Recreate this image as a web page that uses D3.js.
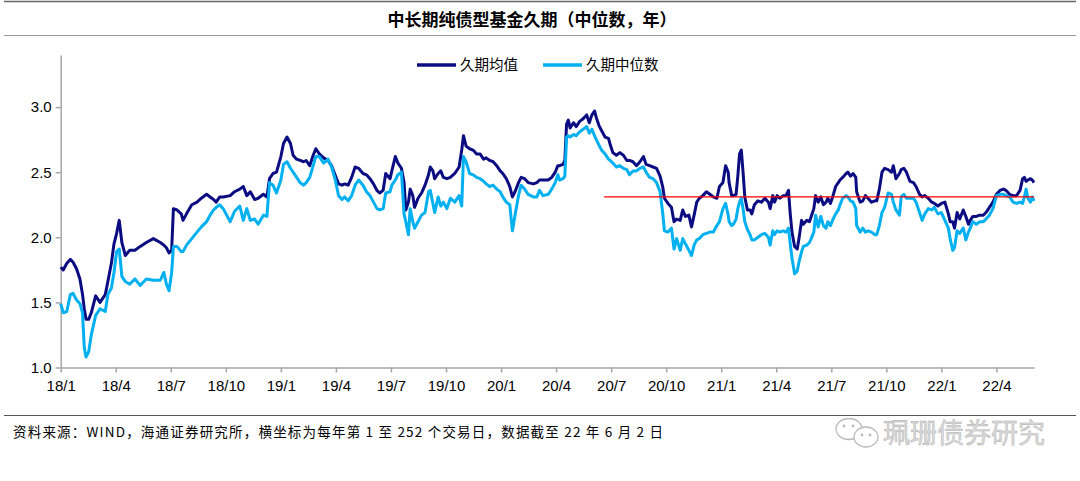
<!DOCTYPE html>
<html>
<head>
<meta charset="utf-8">
<script src="https://cdn.jsdelivr.net/npm/d3@7"></script>
<style>
  body { margin: 0; background: #fff; }
  svg { display: block; }
  .tick-label { font-family: "Liberation Sans", Arial, sans-serif; font-size: 15px; fill: #000; }
  .cn { font-family: "Noto Sans CJK SC", sans-serif; }
</style>
</head>
<body>
<svg width="1080" height="481"></svg>
<script>
// trading-day index (252 per year, day 0 = first trading day of 2018)
const days = [
  0,3,7,11,14,18,22,25,27,29,32,35,40,45,51,54,58,61,64,67,70,74,79,85,91,98,106,114,118,121,124,127,129,133,138,140,144,150,156,161,167,171,175,178,182,
  186,194,199,205,209,213,217,222,226,232,236,239,243,247,252,255,259,263,266,270,274,278,281,285,289,292,296,301,306,310,314,318,322,325,329,333,337,341,346,350,354,358,362,365,369,372,377,
  379,383,386,390,393,395,398,400,403,405,409,413,417,421,423,426,428,432,435,438,442,446,451,456,459,461,464,468,472,476,480,484,487,491,495,499,503,506,510,514,517,520,524,527,531,535,541,545,548,552,558,562,566,569,
  571,575,577,579,581,583,587,590,594,598,602,605,608,611,613,616,619,623,627,629,632,636,640,644,648,651,655,659,663,667,670,674,678,682,686,689,691,695,699,702,705,709,712,715,719,722,725,728,731,735,739,743,747,751,754,758,761,764,
  765,768,770,773,775,777,779,781,783,786,789,791,794,798,802,806,810,812,815,817,820,823,827,830,833,835,837,840,843,845,848,850,854,857,859,862,864,867,870,873,876,878,881,884,887,890,892,895,899,901,904,907,910,911,915,918,921,924,928,932,934,937,940,943,947,951,953,956,960,
  962,965,968,972,976,979,983,986,989,993,997,1000,1004,1008,1012,1016,1018,1021,1023,1026,1029,1033,1036,1039,1041,1044,1048,1052,1056,1059,1063,1067,1071,1075,1079,1082,1086,1090,1094,1098,1101,1103,1105,1107,1110,1112,1114
];

// 久期均值
const meanDur = [
  1.77,1.75,1.80,1.83,1.81,1.76,1.68,1.56,1.45,1.37,1.37,1.42,1.55,1.50,1.56,1.66,1.80,1.95,2.03,2.13,1.96,1.86,1.90,1.90,1.93,1.96,1.99,1.96,1.94,1.92,1.88,1.90,2.22,2.21,2.18,2.13,2.18,2.25,2.27,2.30,2.33,2.31,2.29,2.27,2.31,
  2.31,2.32,2.35,2.37,2.39,2.32,2.35,2.29,2.30,2.33,2.31,2.45,2.49,2.50,2.62,2.72,2.77,2.72,2.63,2.60,2.59,2.58,2.59,2.55,2.63,2.68,2.64,2.61,2.59,2.55,2.48,2.41,2.40,2.41,2.40,2.46,2.54,2.53,2.49,2.48,2.45,2.41,2.36,2.34,2.36,2.49,2.45,
  2.51,2.62,2.57,2.53,2.42,2.21,2.27,2.37,2.32,2.23,2.30,2.34,2.40,2.48,2.54,2.51,2.45,2.49,2.51,2.46,2.45,2.46,2.49,2.54,2.67,2.78,2.70,2.68,2.67,2.64,2.64,2.60,2.61,2.59,2.58,2.55,2.51,2.49,2.45,2.39,2.31,2.35,2.42,2.46,2.45,2.42,2.41,2.42,2.44,2.44,2.44,2.46,2.50,2.55,
  2.55,2.56,2.59,2.87,2.90,2.84,2.88,2.85,2.89,2.91,2.94,2.88,2.94,2.97,2.92,2.86,2.82,2.77,2.76,2.71,2.65,2.63,2.65,2.63,2.59,2.59,2.58,2.55,2.58,2.62,2.56,2.55,2.54,2.53,2.47,2.39,2.30,2.26,2.23,2.12,2.14,2.13,2.21,2.16,2.17,2.08,2.17,2.27,2.30,2.32,2.35,2.33,2.31,2.30,2.39,2.42,2.55,2.50,
  2.42,2.32,2.32,2.33,2.47,2.64,2.67,2.50,2.31,2.21,2.21,2.18,2.25,2.28,2.27,2.30,2.27,2.22,2.32,2.27,2.32,2.30,2.32,2.32,2.36,2.18,2.04,1.93,1.91,1.99,2.13,2.10,2.13,2.12,2.16,2.22,2.32,2.27,2.31,2.25,2.27,2.30,2.26,2.32,2.39,2.42,2.44,2.46,2.49,2.50,2.47,2.49,2.46,2.35,2.27,2.28,2.32,2.30,2.27,2.28,2.28,2.37,2.50,2.53,2.52,2.50,2.55,2.45,2.49,
  2.52,2.53,2.50,2.43,2.42,2.39,2.33,2.31,2.32,2.30,2.27,2.26,2.24,2.26,2.27,2.18,2.12,2.12,2.07,2.19,2.14,2.21,2.16,2.10,2.13,2.16,2.16,2.17,2.17,2.19,2.23,2.27,2.33,2.36,2.37,2.36,2.33,2.32,2.32,2.36,2.45,2.46,2.43,2.44,2.45,2.44,2.42
];

// 久期中位数
const medianDur = [
  1.49,1.42,1.43,1.56,1.57,1.52,1.49,1.42,1.15,1.08,1.12,1.25,1.40,1.45,1.43,1.56,1.61,1.73,1.89,1.91,1.70,1.66,1.64,1.68,1.63,1.68,1.67,1.67,1.73,1.64,1.59,1.73,1.93,1.93,1.89,1.89,1.94,1.99,2.04,2.08,2.12,2.17,2.21,2.23,2.25,
  2.22,2.12,2.20,2.24,2.13,2.22,2.13,2.14,2.10,2.17,2.16,2.42,2.40,2.34,2.44,2.56,2.58,2.53,2.50,2.46,2.42,2.40,2.42,2.46,2.55,2.62,2.62,2.57,2.60,2.54,2.45,2.32,2.29,2.31,2.28,2.32,2.40,2.44,2.40,2.35,2.32,2.27,2.22,2.21,2.22,2.34,2.35,
  2.40,2.44,2.48,2.50,2.18,2.12,2.02,2.22,2.12,2.07,2.12,2.17,2.19,2.35,2.36,2.26,2.19,2.31,2.24,2.27,2.22,2.30,2.27,2.32,2.24,2.62,2.58,2.49,2.48,2.46,2.45,2.43,2.41,2.39,2.40,2.37,2.35,2.31,2.27,2.25,2.05,2.17,2.32,2.40,2.37,2.33,2.31,2.31,2.36,2.32,2.33,2.37,2.42,2.48,
  2.44,2.45,2.47,2.77,2.78,2.77,2.79,2.78,2.81,2.83,2.85,2.80,2.83,2.78,2.75,2.71,2.67,2.64,2.60,2.59,2.57,2.54,2.55,2.53,2.52,2.48,2.51,2.51,2.53,2.54,2.50,2.46,2.45,2.42,2.35,2.19,2.05,2.04,2.07,1.91,1.99,1.90,1.99,1.95,1.90,1.86,1.94,1.98,1.99,2.02,2.03,2.04,2.04,2.09,2.12,2.22,2.26,2.17,
  2.12,2.09,2.10,2.14,2.22,2.27,2.30,2.22,2.12,2.06,2.02,1.98,1.98,2.00,2.02,2.03,2.00,1.94,2.05,2.02,2.05,2.04,2.05,2.04,2.07,1.95,1.84,1.72,1.74,1.81,1.89,1.93,1.94,1.96,1.99,2.04,2.17,2.08,2.16,2.09,2.07,2.12,2.09,2.14,2.18,2.21,2.25,2.30,2.32,2.31,2.28,2.27,2.22,2.09,2.04,2.07,2.04,2.05,2.04,2.02,2.02,2.09,2.19,2.23,2.34,2.33,2.27,2.21,2.17,
  2.31,2.33,2.30,2.30,2.30,2.27,2.19,2.13,2.18,2.22,2.21,2.23,2.18,2.19,2.13,2.07,1.99,1.90,1.92,2.05,2.03,2.07,1.98,2.04,2.07,2.12,2.10,2.12,2.12,2.14,2.17,2.22,2.32,2.33,2.33,2.32,2.31,2.27,2.26,2.27,2.26,2.31,2.37,2.30,2.27,2.31,2.28
];

// red reference line
const refDays = [622, 1114];
const refValues = [2.31, 2.31];

const xTickLabels = ["18/1","18/4","18/7","18/10","19/1","19/4","19/7","19/10","20/1","20/4","20/7","20/10","21/1","21/4","21/7","21/10","22/1","22/4"];
const yTickValues = [1.0, 1.5, 2.0, 2.5, 3.0];
const seriesNames = ["久期均值", "久期中位数"];
const seriesColors = ["#0c0c82", "#00b0f0"];

const svg = d3.select("svg");

const margin = { top: 55, right: 46, bottom: 113.5, left: 60.7 },
    width = 1080 - margin.left - margin.right,
    height = 481 - margin.top - margin.bottom;

// frame lines and title
svg.append("line").attr("x1", 4).attr("x2", 1076).attr("y1", 1.5).attr("y2", 1.5)
    .attr("stroke", "#666").attr("stroke-width", 1.5);
svg.append("line").attr("x1", 4).attr("x2", 1076).attr("y1", 35.5).attr("y2", 35.5)
    .attr("stroke", "#999").attr("stroke-width", 1);
svg.append("text").attr("class", "cn")
    .attr("x", 532).attr("y", 26)
    .attr("text-anchor", "middle")
    .attr("font-size", 17).attr("font-weight", "bold")
    .text("中长期纯债型基金久期（中位数，年）");

const g = svg.append("g")
    .attr("transform", `translate(${margin.left},${margin.top})`);

const x = d3.scaleLinear().domain([0, 1114]).range([0, width]);
const y = d3.scaleLinear().domain([1.0, 3.4]).range([height, 0]);

// axes
const xAxis = g.append("g")
    .attr("transform", `translate(0,${height})`)
    .call(d3.axisBottom(x)
        .tickValues(xTickLabels.map((d, i) => i * 63))
        .tickFormat((d, i) => xTickLabels[i])
        .tickSize(5).tickSizeOuter(0).tickPadding(8));

const yAxis = g.append("g")
    .call(d3.axisLeft(y)
        .tickValues(yTickValues)
        .tickFormat(d3.format(".1f"))
        .tickSize(5).tickSizeOuter(0).tickPadding(4));

[xAxis, yAxis].forEach(ax => {
    ax.select(".domain").attr("stroke", "#a6a6a6").attr("stroke-width", 1.5);
    ax.selectAll(".tick line").attr("stroke", "#a6a6a6").attr("stroke-width", 1.5);
    ax.selectAll(".tick text").attr("class", "tick-label");
});

// lines
const meanData = days.map((d, i) => ({ day: d, v: meanDur[i] }));
const medianData = days.map((d, i) => ({ day: d, v: medianDur[i] }));
const line = d3.line().x(d => x(d.day)).y(d => y(d.v));

[meanData, medianData].forEach((data, k) => {
    g.append("path")
        .datum(data)
        .attr("fill", "none")
        .attr("stroke", seriesColors[k])
        .attr("stroke-width", 3)
        .attr("stroke-linejoin", "round")
        .attr("d", line);
});

g.append("path")
    .datum(refDays.map((d, i) => ({ day: d, v: refValues[i] })))
    .attr("fill", "none")
    .attr("stroke", "#ff0000")
    .attr("stroke-width", 1.2)
    .attr("d", line);

// legend
const legend = svg.append("g").attr("transform", "translate(417,65)");
const legendX = [0, 126];
seriesNames.forEach((name, i) => {
    legend.append("line")
        .attr("x1", legendX[i]).attr("x2", legendX[i] + 39)
        .attr("stroke", seriesColors[i]).attr("stroke-width", 3.5);
    legend.append("text").attr("class", "cn")
        .attr("x", legendX[i] + 43).attr("y", 5)
        .attr("font-size", 14.5)
        .text(name);
});

// source note
svg.append("line").attr("x1", 4).attr("x2", 1076).attr("y1", 415.5).attr("y2", 415.5)
    .attr("stroke", "#555").attr("stroke-width", 1.2);
svg.append("text").attr("class", "cn")
    .attr("x", 13).attr("y", 437)
    .attr("font-size", 13.5)
    .attr("letter-spacing", 1.2)
    .text("资料来源：WIND，海通证券研究所，横坐标为每年第 1 至 252 个交易日，数据截至 22 年 6 月 2 日");

// watermark
const wm = svg.append("g").attr("transform", "translate(835,418)");
wm.append("ellipse").attr("cx", 14).attr("cy", 11).attr("rx", 13).attr("ry", 10.5)
    .attr("fill", "#fff").attr("stroke", "#bbb").attr("stroke-width", 1.3);
wm.append("ellipse").attr("cx", 31).attr("cy", 19).attr("rx", 12).attr("ry", 10)
    .attr("fill", "#fff").attr("stroke", "#bbb").attr("stroke-width", 1.3);
[[9, 8], [18, 8], [27, 17], [35, 17]].forEach(p => {
    wm.append("circle").attr("cx", p[0]).attr("cy", p[1]).attr("r", 1.4).attr("fill", "#bbb");
});
svg.append("text").attr("class", "cn")
    .attr("x", 883).attr("y", 443)
    .attr("font-size", 27)
    .attr("fill", "#dcdcdc").attr("stroke", "#acacac").attr("stroke-width", 0.45)
    .text("珮珊债券研究");
</script>
</body>
</html>
